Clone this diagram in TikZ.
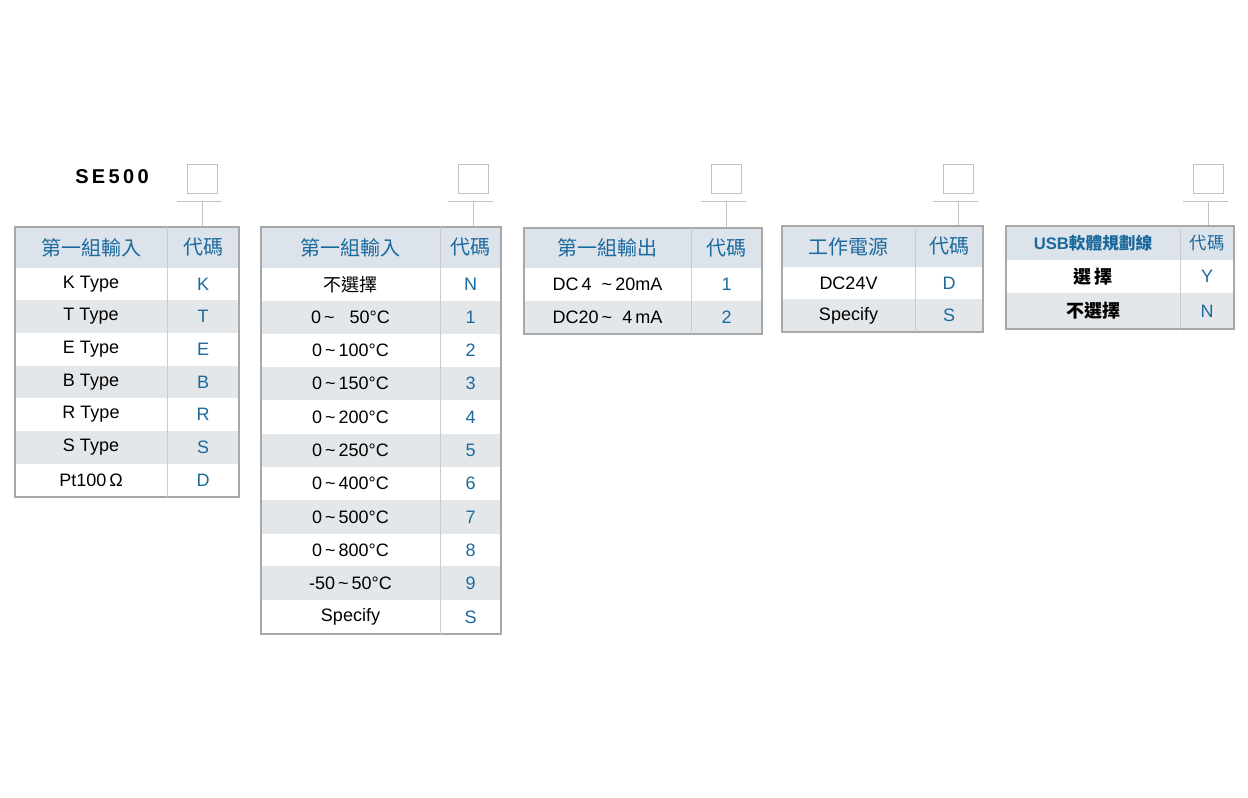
\documentclass[tikz,border=0pt]{standalone}
\usepackage{fontspec}
\setmainfont{Liberation Sans}
\newfontfamily\cjk{Noto Sans CJK TC}
\definecolor{hdr}{HTML}{DCE3EA}
\definecolor{alt}{HTML}{E4E7EA}
\definecolor{bl}{HTML}{1B6A9E}
\definecolor{bd}{HTML}{A8A8A8}
\newcommand{\mkrow}[8]{%
  \fill[#6] (#1,#4) rectangle (#3,#5);
  \draw[bd!60,line width=0.6pt] (#1,#5) -- (#3,#5);
  \node[font=\fontsize{13.5}{15}\selectfont] at ({(#1+#2)/2},{(#4+#5)/2}) {#7};
  \node[font=\fontsize{13.5}{15}\selectfont,text=bl] at ({(#2+#3)/2},{(#4+#5)/2}) {#8};}
\newcommand{\mkhead}[7]{%
  \fill[hdr] (#1,#4) rectangle (#3,#5);
  \node[font=\cjk\fontsize{#7}{16}\selectfont,text=bl] at ({(#1+#2)/2},{(#4+#5)/2}) {#6};
  \node[font=\cjk\fontsize{15}{16}\selectfont,text=bl] at ({(#2+#3)/2},{(#4+#5)/2}) {代碼};}
\newcommand{\mkframe}[6]{%
  \draw[bd,line width=0.8pt] (#1,#4) rectangle (#3,#5);
  \draw[bd!60,line width=0.6pt] (#2,#4) -- (#2,#5);}
\newcommand{\mkconn}[2]{% xcenter, ytop of table
  \draw[bd!70,line width=0.7pt] (#1-15,164) rectangle (#1+15,193);
  \draw[bd!70,line width=0.6pt] (#1-25,201) -- (#1+20,201);
  \draw[bd!70,line width=0.6pt] (#1,201) -- (#1,#2);}
\begin{document}
\begin{tikzpicture}[x=0.75pt,y=-0.75pt]
\useasboundingbox (0,0) rectangle (1248,798);
\node[font=\bfseries\fontsize{15}{16}\selectfont] (title) at (112,177) {S\,E\,5\,0\,0};
% table 1
\mkconn{202}{227}
\mkhead{15}{167}{239}{227}{268}{第一組輸入}{15}
\mkrow{15}{167}{239}{268}{300}{white}{K Type}{K}
\mkrow{15}{167}{239}{300}{333}{alt}{T Type}{T}
\mkrow{15}{167}{239}{333}{366}{white}{E Type}{E}
\mkrow{15}{167}{239}{366}{398}{alt}{B Type}{B}
\mkrow{15}{167}{239}{398}{431}{white}{R Type}{R}
\mkrow{15}{167}{239}{431}{464}{alt}{S Type}{S}
\mkrow{15}{167}{239}{464}{497}{white}{Pt100\,Ω}{D}
\mkframe{15}{167}{239}{227}{497}{}
% table 2
\mkconn{473}{227}
\mkhead{261}{440}{501}{227}{268}{第一組輸入}{15}
\mkrow{261}{440}{501}{268}{301}{white}{{\cjk 不選擇}}{N}
\mkrow{261}{440}{501}{301}{334}{alt}{0\,\char`\~\ \ \ 50°C}{1}
\mkrow{261}{440}{501}{334}{367}{white}{0\,\char`\~\,100°C}{2}
\mkrow{261}{440}{501}{367}{400}{alt}{0\,\char`\~\,150°C}{3}
\mkrow{261}{440}{501}{400}{434}{white}{0\,\char`\~\,200°C}{4}
\mkrow{261}{440}{501}{434}{467}{alt}{0\,\char`\~\,250°C}{5}
\mkrow{261}{440}{501}{467}{500}{white}{0\,\char`\~\,400°C}{6}
\mkrow{261}{440}{501}{500}{534}{alt}{0\,\char`\~\,500°C}{7}
\mkrow{261}{440}{501}{534}{566}{white}{0\,\char`\~\,800°C}{8}
\mkrow{261}{440}{501}{566}{600}{alt}{-50\,\char`\~\,50°C}{9}
\mkrow{261}{440}{501}{600}{634}{white}{Specify}{S}
\mkframe{261}{440}{501}{227}{634}{}
% table 3
\mkconn{726}{228}
\mkhead{524}{691}{762}{228}{268}{第一組輸出}{15}
\mkrow{524}{691}{762}{268}{301}{white}{DC\,4\ \ \char`\~\,20mA}{1}
\mkrow{524}{691}{762}{301}{334}{alt}{DC20\,\char`\~\ \ 4\,mA}{2}
\mkframe{524}{691}{762}{228}{334}{}
% table 4
\mkconn{958}{226}
\mkhead{782}{915}{983}{226}{267}{工作電源}{15}
\mkrow{782}{915}{983}{267}{299}{white}{DC24V}{D}
\mkrow{782}{915}{983}{299}{332}{alt}{Specify}{S}
\mkframe{782}{915}{983}{226}{332}{}
% table 5
\mkconn{1208}{226}
\fill[hdr] (1006,226) rectangle (1234,260);
\node[font=\bfseries\fontsize{12.5}{14}\selectfont,text=bl] (h5) at (1093,243) {USB{\cjk 軟體規劃線}};
\node[font=\cjk\fontsize{13}{14}\selectfont,text=bl] (c5) at (1207,243) {代碼};
\mkrow{1006}{1180}{1234}{260}{293}{white}{{\cjk\bfseries 選\,擇}}{Y}
\mkrow{1006}{1180}{1234}{293}{329}{alt}{{\cjk\bfseries 不選擇}}{N}
\mkframe{1006}{1180}{1234}{226}{329}{}
\end{tikzpicture}
\end{document}
